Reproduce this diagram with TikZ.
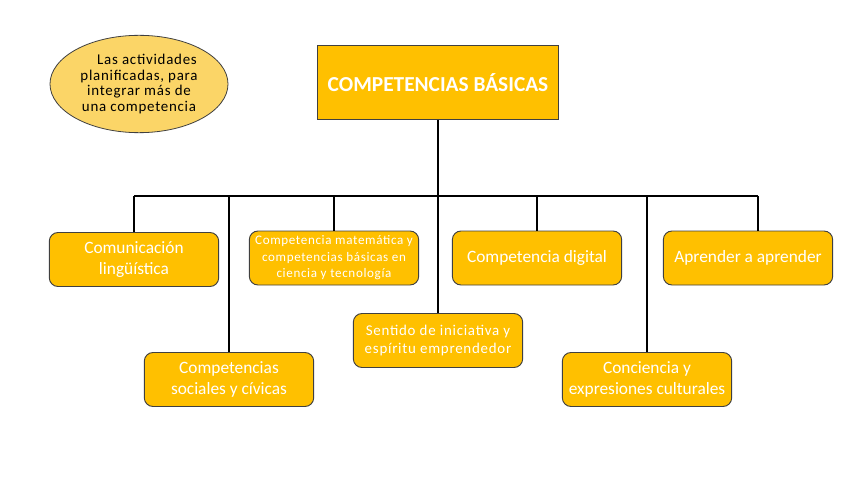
\documentclass[tikz,border=0pt]{standalone}
\usepackage{fontspec}
\setmainfont{Carlito}
\newfontfamily\spaced{Carlito}[LetterSpace=5]
\usepackage{xcolor}
\usepackage{tikz}
\usetikzlibrary{calc,shapes.geometric}
\definecolor{boxfill}{HTML}{FFC000}
\definecolor{ovalfill}{HTML}{FBD567}
\definecolor{edge}{HTML}{404040}
\tikzset{
  compbox/.style={draw=edge, line width=0.7pt, fill=boxfill, rounded corners=6.5pt,
    minimum width=127pt, minimum height=40.5pt, inner sep=2pt, align=center, text=white},
  topbox/.style={draw=edge, line width=0.9pt, fill=boxfill, minimum width=181pt,
    minimum height=56pt, text=white, font=\fontsize{16}{19}\selectfont\bfseries},
  oval/.style={ellipse, draw=edge, line width=0.6pt, fill=ovalfill, minimum width=133.5pt,
    minimum height=73pt, inner sep=0pt, align=center, text=black},
  link/.style={draw=black, line width=1.5pt},
  big/.style={font=\fontsize{13}{15.5}\selectfont},
  mid/.style={font=\spaced\fontsize{11.2}{13.5}\selectfont},
  small/.style={font=\spaced\fontsize{9.8}{12.4}\selectfont},
}
\begin{document}
\begin{tikzpicture}[x=0.75pt,y=-0.75pt]
  \useasboundingbox (0,0) rectangle (848,477);

  \node[oval, font=\spaced\fontsize{11.2}{11.6}\selectfont] (nota) at (139,84)
    {\hspace*{12pt}Las actividades\\planificadas, para\\integrar más de\\una competencia};

  \node[topbox] (top) at (438,82.5) {COMPETENCIAS BÁSICAS};

  % first row
  \node[compbox, big] (comun) at (134,259.5) {Comunicación\\lingüística};
  \node[compbox, small] (mate) at (334,258) {Competencia matemática y\\competencias básicas en\\ciencia y tecnología};
  \node[compbox, big] (digi) at (537,258) {Competencia digital};
  \node[compbox, big] (apre) at (748,258) {Aprender a aprender};

  % lower boxes
  \node[compbox, mid] (senti) at (438,340.5) {Sentido de iniciativa y\\espíritu emprendedor};
  \node[compbox, big] (socia) at (229,379.5) {Competencias\\sociales y cívicas};
  \node[compbox, big] (conci) at (647,379.5) {Conciencia y\\expresiones culturales};

  % connectors
  \coordinate (busL) at (134,196);
  \coordinate (busR) at (758,196);
  \draw[link] (busL) -- (busR);
  \draw[link] (top.south) -- (top.south |- busL);
  \foreach \n in {comun,socia,mate,senti,digi,conci}
    \draw[link] (\n.north) -- (\n.north |- busL);
  \draw[link] (busR) -- (busR |- apre.north);
\end{tikzpicture}
\end{document}
